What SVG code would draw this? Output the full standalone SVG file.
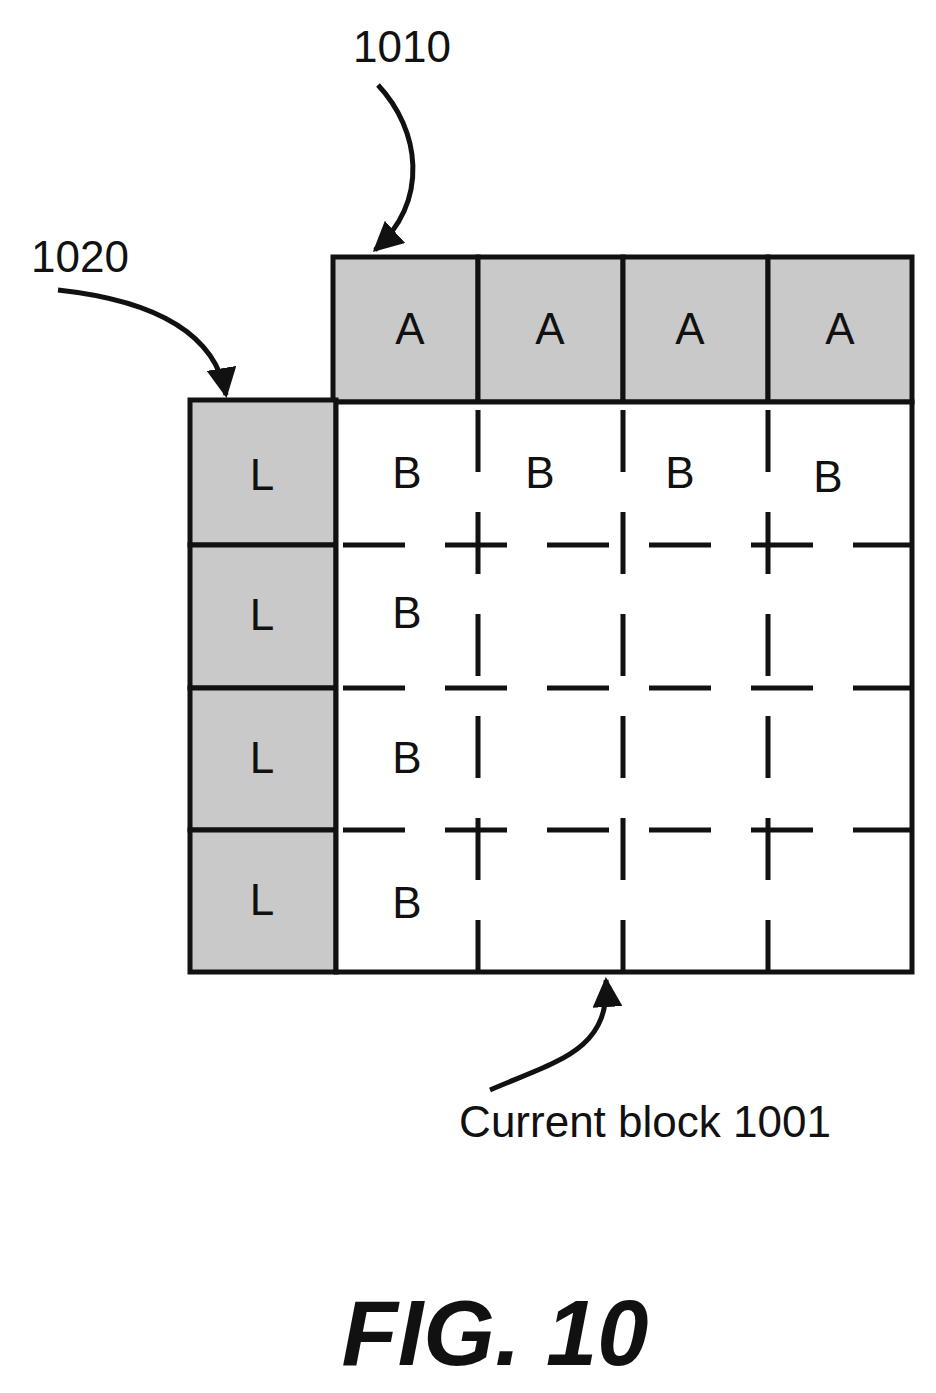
<svg xmlns="http://www.w3.org/2000/svg" width="936" height="1393" viewBox="0 0 936 1393">
<style>
.t{font-family:"Liberation Sans",Arial,sans-serif;font-size:44px;fill:#111;text-anchor:middle}
.sh{fill:#c9c9c9;stroke:#111;stroke-width:5}
.d{stroke:#111;stroke-width:5;stroke-dasharray:62 40;fill:none}
.c{stroke:#111;stroke-width:5;fill:none}
</style>
<defs><marker id="ah" viewBox="0 0 10 10" refX="9" refY="5" markerWidth="6" markerHeight="6" orient="auto"><path d="M0,0L10,5L0,10z" fill="#111"/></marker></defs>
<rect width="936" height="1393" fill="#fff"/>
<g id="top-row">
<rect class="sh" x="333" y="257" width="145" height="145"/>
<rect class="sh" x="478" y="257" width="145" height="145"/>
<rect class="sh" x="623" y="257" width="145" height="145"/>
<rect class="sh" x="768" y="257" width="144" height="145"/>
<text class="t" x="410" y="344">A</text><text class="t" x="550" y="344">A</text><text class="t" x="690" y="344">A</text><text class="t" x="840" y="344">A</text>
</g>
<g id="left-col">
<rect class="sh" x="190" y="400" width="146" height="145"/>
<rect class="sh" x="190" y="545" width="146" height="143"/>
<rect class="sh" x="190" y="688" width="146" height="142"/>
<rect class="sh" x="190" y="830" width="146" height="142"/>
<text class="t" x="262" y="490">L</text><text class="t" x="262" y="630">L</text><text class="t" x="262" y="773">L</text><text class="t" x="262" y="915">L</text>
</g>
<g id="current-block">
<rect x="336" y="402" width="576" height="570" fill="#fff" stroke="#111" stroke-width="5"/>
<path class="d" d="M343,545H912M343,688H912M343,830H912"/>
<path class="d" d="M478,410V972M623,410V972M768,410V972"/>
<text class="t" x="407" y="488">B</text><text class="t" x="540" y="488">B</text><text class="t" x="680" y="488">B</text><text class="t" x="828" y="492">B</text>
<text class="t" x="407" y="628">B</text><text class="t" x="407" y="773">B</text><text class="t" x="407" y="918">B</text>
</g>
<g id="connectors">
<path class="c" d="M378,85C420,130 430,200 375,250" marker-end="url(#ah)"/>
<path class="c" d="M58,290C150,300 215,330 226,395" marker-end="url(#ah)"/>
<path class="c" d="M490,1090C560,1060 610,1050 606,980" marker-end="url(#ah)"/>
</g>
<g id="labels">
<text class="t" x="402" y="62">1010</text>
<text class="t" x="80" y="272">1020</text>
<text class="t" x="645" y="1137">Current block 1001</text>
<text x="495" y="1365" style="font-family:'Liberation Sans',Arial,sans-serif;font-size:92px;font-weight:bold;font-style:italic;text-anchor:middle;fill:#111">FIG. 10</text>
</g>
</svg>
